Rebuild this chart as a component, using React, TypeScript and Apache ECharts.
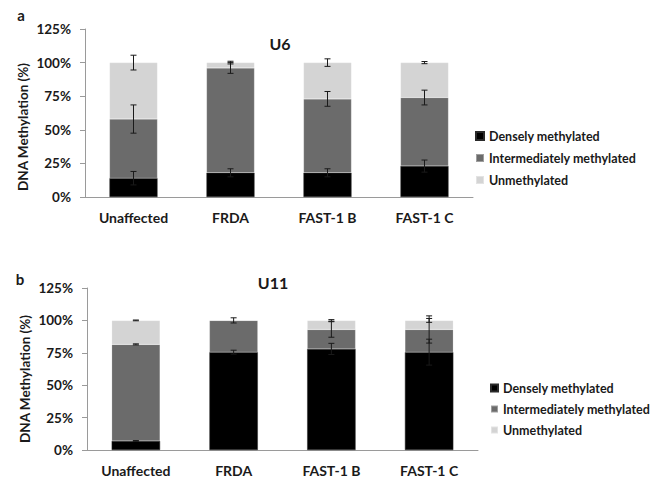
import React, { useEffect, useRef } from "react";
import * as echarts from "echarts";

const categories = ["Unaffected", "FRDA", "FAST-1 B", "FAST-1 C"];
const seriesNames = ["Densely methylated", "Intermediately methylated", "Unmethylated"];
const yTicks = [0, 25, 50, 75, 100, 125];

// Panel a (U6)
const denseA = [14, 18, 18, 23];
const interA = [44, 78, 55, 51];
const unmethA = [42, 4, 27, 26];
const denseErrA = [5, 3, 3, 4.5];
const interErrA = [10.5, 4, 5.5, 5.5];
const unmethErrA = [5.5, 1, 2.8, 0.8];

// Panel b (U11)
const denseB = [7, 75.5, 78, 75.5];
const interB = [74.5, 24.5, 15, 17.5];
const unmethB = [18.5, 0, 7, 7];
const denseErrB = [0.3, 1.5, 4.3, 10];
const interErrB = [0.4, 2, 6, 10.5];
const unmethErrB = [0.3, 0, 0.6, 1.5];

const colors = ["#000000", "#6b6b6b", "#d4d4d4"];
const FONT = "Lato";

function errData(bottoms: number[], vals: number[], errs: number[]) {
  return vals.map((v, i) => [i, bottoms[i] + v, errs[i]]);
}

function buildErr(d: number[], m: number[], u: number[], de: number[], me: number[], ue: number[]) {
  const z = d.map(() => 0);
  const dm = d.map((v, i) => v + m[i]);
  return [
    ...errData(z, d, de),
    ...errData(d, m, me),
    ...errData(dm, u, ue),
  ].filter((p) => p[2] > 0);
}

const renderErr = (params: any, api: any) => {
  const x = api.value(0);
  const y = api.value(1);
  const e = api.value(2);
  const top = api.coord([x, y + e]);
  const bot = api.coord([x, y - e]);
  const cx = top[0];
  const hw = 3;
  const st = { stroke: "#1a1a1a", lineWidth: 1 };
  return {
    type: "group",
    children: [
      { type: "line", shape: { x1: cx, y1: top[1], x2: cx, y2: bot[1] }, style: st },
      { type: "line", shape: { x1: cx - hw, y1: top[1], x2: cx + hw, y2: top[1] }, style: st },
      { type: "line", shape: { x1: cx - hw, y1: bot[1], x2: cx + hw, y2: bot[1] }, style: st },
    ],
  };
};

export default function App() {
  const ref = useRef<HTMLDivElement>(null);
  useEffect(() => {
    if (!ref.current) return;
    const chart = echarts.init(ref.current, null, { renderer: "svg" });
    const axisColor = "#9a9a9a";
    const labelStyle = { fontFamily: FONT, fontWeight: "bold" as const, fontSize: 13, color: "#1a1a1a" };
    const mkX = (gi: number) => ({
      type: "category",
      gridIndex: gi,
      data: categories,
      axisLine: { lineStyle: { color: axisColor } },
      axisTick: { length: 5, lineStyle: { color: axisColor } },
      axisLabel: { ...labelStyle, fontSize: 14, margin: 13 },
    });
    const mkY = (gi: number) => ({
      type: "value",
      gridIndex: gi,
      min: 0,
      max: 125,
      interval: 25,
      axisLine: { show: true, lineStyle: { color: axisColor } },
      axisTick: { show: true, length: 5, lineStyle: { color: axisColor } },
      splitLine: { show: false },
      axisLabel: { ...labelStyle, fontSize: 13.5, margin: 14, formatter: (v: number) => (yTicks.includes(v) ? v + "%" : "") },
    });
    const bars = (gi: number, vals: number[][]) =>
      vals.map((v, k) => ({
        name: seriesNames[k],
        type: "bar",
        stack: "s" + gi,
        xAxisIndex: gi,
        yAxisIndex: gi,
        data: v,
        barWidth: "49.5%",
        itemStyle: { color: colors[k], borderColor: k === 0 ? "#2a2a2a" : "rgba(255,255,255,0.35)", borderWidth: 0.5 },
      }));
    const legend = (left: number, top: number, gap: number, size: number) => ({
      orient: "vertical",
      left,
      top,
      padding: 0,
      itemWidth: size,
      itemHeight: size,
      itemGap: gap,
      icon: "rect",
      data: seriesNames,
      textStyle: { fontFamily: FONT, fontWeight: "bold", fontSize: 12.5, color: "#1a1a1a", lineHeight: 14 },
      selectedMode: false,
    });
    const txt = (text: string, x: number, y: number, size: number, rot = 0) => ({
      type: "text",
      x,
      y,
      rotation: rot,
      style: {
        text,
        fontFamily: FONT,
        fontWeight: "bold",
        fontSize: size,
        fill: "#1a1a1a",
        textAlign: "center",
        textVerticalAlign: "middle",
      },
    });
    chart.setOption({
      animation: false,
      backgroundColor: "#ffffff",
      grid: [
        { left: 85, top: 29, width: 388, height: 168 },
        { left: 87, top: 288, width: 391, height: 162 },
      ],
      xAxis: [mkX(0), mkX(1)],
      yAxis: [mkY(0), mkY(1)],
      legend: [legend(475, 129, 8, 8), legend(490, 381, 7, 7)],
      series: [
        ...bars(0, [denseA, interA, unmethA]),
        ...bars(1, [denseB, interB, unmethB]),
        {
          type: "custom",
          name: "errA",
          xAxisIndex: 0,
          yAxisIndex: 0,
          renderItem: renderErr,
          encode: { x: 0, y: 1 },
          data: buildErr(denseA, interA, unmethA, denseErrA, interErrA, unmethErrA),
          z: 10,
        },
        {
          type: "custom",
          name: "errB",
          xAxisIndex: 1,
          yAxisIndex: 1,
          renderItem: renderErr,
          encode: { x: 0, y: 1 },
          data: buildErr(denseB, interB, unmethB, denseErrB, interErrB, unmethErrB),
          z: 10,
        },
      ],
      graphic: [
        txt("a", 21, 15, 15),
        txt("b", 20, 279, 15),
        txt("U6", 280, 43, 16),
        txt("U11", 273, 282, 16),
        txt("DNA Methylation (%)", 23, 127, 13.5, Math.PI / 2),
        txt("DNA Methylation (%)", 25, 379, 13.5, Math.PI / 2),
      ],
    });
    return () => chart.dispose();
  }, []);
  return <div ref={ref} style={{ position: "fixed", left: 0, top: 0, width: 651, height: 477 }} />;
}
